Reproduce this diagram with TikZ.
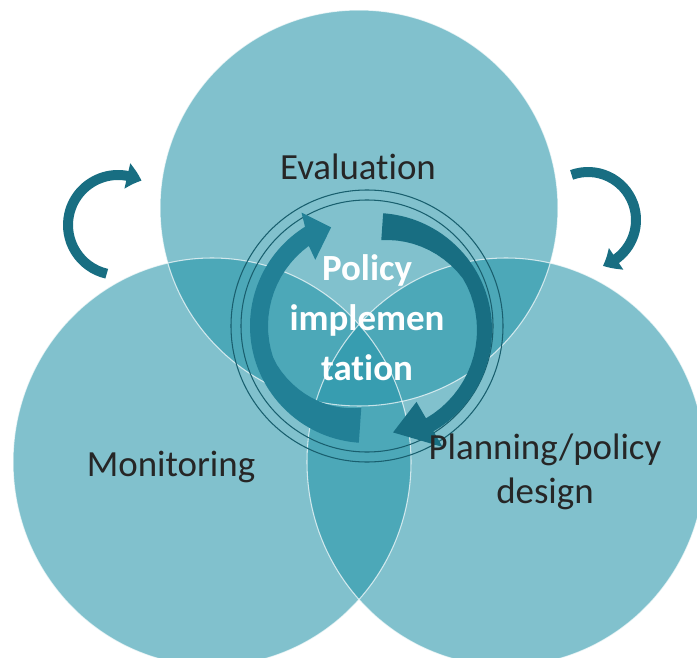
\documentclass[tikz,border=0pt]{standalone}
\usepackage{fontspec}
\setmainfont{Carlito}[Ligatures=CommonOff]
\usetikzlibrary{arrows.meta,bending}
\definecolor{discteal}{RGB}{40,150,170}
\definecolor{darkteal}{RGB}{24,110,130}
\definecolor{midteal}{RGB}{34,128,150}
\definecolor{lineteal}{RGB}{25,95,110}

\begin{document}
\begin{tikzpicture}[x=0.02cm, y=0.02cm,
disc/.style={fill=discteal, fill opacity=0.59},
rim/.style={draw=white, draw opacity=0.7, line width=0.6pt},
smallarrow/.style={darkteal, line width=0.2cm, -{Triangle[width=0.5cm, length=0.3cm, bend]}},
lbl/.style={font=\fontsize{21}{25}\selectfont, text=black!85, align=center},
core/.style={font=\fontsize{21}{28.5}\selectfont\bfseries, text=white, align=center}]
\useasboundingbox (0,0) rectangle (697,657);
\begin{scope}
\clip (0,0) rectangle (697,657);
\foreach \x/\y/\r in {359/449/198, 212/195/204, 506/195/204}
  \fill[disc] (\x,\y) ellipse [x radius=199, y radius=\r];
\foreach \x/\y/\r in {359/449/198, 212/195/204, 506/195/204}
  \draw[rim] (\x,\y) ellipse [x radius=199, y radius=\r];
\end{scope}

\coordinate (hub) at (367,331);
\draw[lineteal, line width=0.6pt] (hub) circle [radius=136] (hub) circle [radius=126];

% cycle arrows, thicker at the tail end
\begin{scope}[shift={(hub)}]
\fill[midteal] (266:117) arc [start angle=266, end angle=122, radius=117]
  -- (120:131) -- (110:105) -- (128:84)
  -- plot [domain=126:266, samples=30] (\x:{min(99,82+(266-\x)*0.2576)}) -- cycle;
\end{scope}
\begin{scope}[shift={(375,327)}]
\fill[darkteal] (86:117) arc [start angle=86, end angle=-60, radius=117]
  -- (-60:135) -- (-80:104) -- (-60:83)
  -- plot [domain=-60:86, samples=30] (\x:{min(102,90+(86-\x)*0.214)}) -- cycle;
\end{scope}

\coordinate (lhook) at (118,432);
\coordinate (rhook) at (588,437);
\draw[smallarrow] ([shift={(257:50)}]lhook) arc [start angle=257, end angle=62, radius=50];
\draw[smallarrow] ([shift={(110:48)}]rhook) arc [start angle=110, end angle=-72, radius=48];

\node[lbl] (eval) at (358,490) {Evaluation};
\node[lbl] (monit) at (171,190) {Monitoring};
\node[lbl] (plan) at (545,185) {Planning/policy\\design};
\node[core] (policy) at (367,339) {Policy\\implemen\\tation};
\end{tikzpicture}
\end{document}
